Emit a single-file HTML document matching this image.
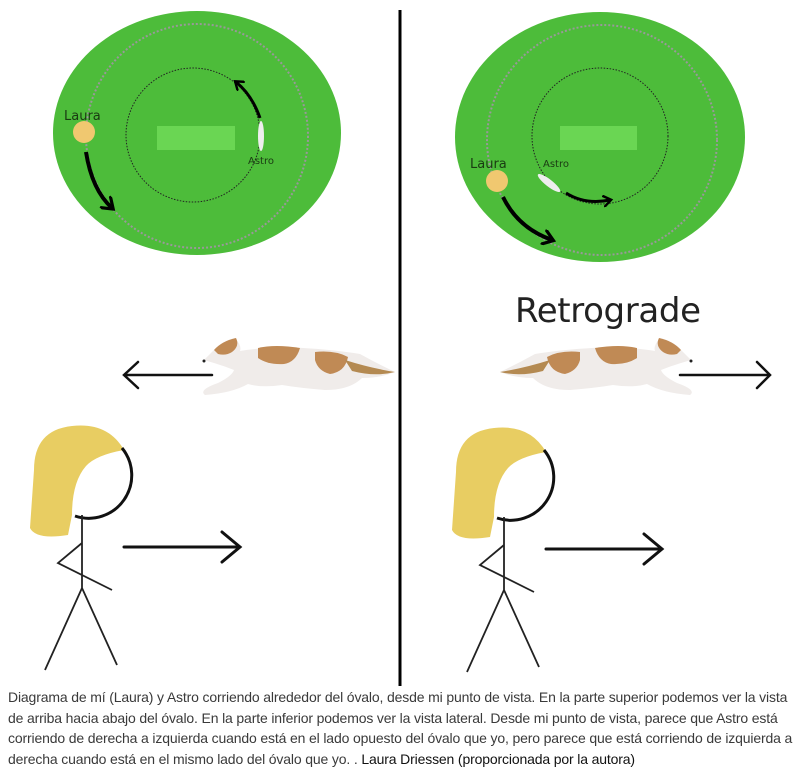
<!DOCTYPE html>
<html><head><meta charset="utf-8"><style>
html,body{margin:0;padding:0;background:#fff;width:800px;height:767px;overflow:hidden}
svg{position:absolute;left:0;top:0}
.cap{position:absolute;left:8px;top:687px;width:795px;font:14px/20.5px "Liberation Sans",sans-serif;color:#3a3a3a;white-space:nowrap;letter-spacing:-0.15px}
.cap span{color:#111}
</style></head><body>
<svg width="800" height="767" viewBox="0 0 800 767" font-family="DejaVu Sans, sans-serif">
<defs>
<g id="dog">
 <path d="M204,360 L214,350 Q222,341 235,338 Q242,346 240,351 Q258,348 285,347 Q330,349 360,354 Q378,364 395,372 Q380,378 362,378 Q350,390 325,390 Q300,388 282,385 Q262,388 248,384 Q232,393 205,395 Q198,390 218,383 Q232,376 234,370 Q224,366 214,363 Z" fill="#f0ecea"/>
 <path d="M214,350 Q222,341 236,338 Q240,346 232,352 Q226,356 218,354 Z" fill="#c08a55"/>
 <path d="M258,348 Q275,344 300,348 Q296,362 284,364 Q268,365 258,358 Z" fill="#c08a55"/>
 <path d="M315,352 Q335,350 348,357 Q345,372 330,374 Q318,371 315,360 Z" fill="#c08a55"/>
 <path d="M345,360 Q370,368 395,372 Q375,377 352,371 Z" fill="#b48a52"/>
 <circle cx="204" cy="361" r="1.5" fill="#222"/>
</g>
<g id="person">
 <path d="M34,470 Q34,430 72,426 Q108,422 124,450 Q96,455 86,466 Q72,482 72,515 L68,535 Q36,540 30,528 Z" fill="#e8cd62"/>
 <path d="M122,448 A43,43 0 0 1 75,516" fill="none" stroke="#111" stroke-width="3"/>
 <path d="M82,515 L82,590 M82,543 L58,563 L112,590 M82,588 L45,670 M82,588 L117,665" fill="none" stroke="#222" stroke-width="1.8"/>
 <path d="M124,547 L240,547 M222,532 L240,547 L222,562" fill="none" stroke="#111" stroke-width="3" stroke-linecap="round"/>
</g>
<marker id="ah" viewBox="0 0 10 10" refX="6" refY="5" markerWidth="4" markerHeight="4" orient="auto"><path d="M0,0 L7,5 L0,10" fill="none" stroke="#000" stroke-width="2"/></marker>
</defs>
<ellipse cx="197" cy="133" rx="144" ry="122" fill="#4dbc3a"/>
<ellipse cx="197" cy="136" rx="111" ry="112" fill="none" stroke="#999" stroke-width="2" stroke-dasharray="2 2"/>
<circle cx="193" cy="135" r="67" fill="none" stroke="#222" stroke-width="1" stroke-dasharray="1.5 1.5"/>
<rect x="157" y="126" width="78" height="24" fill="#6ad653"/>
<circle cx="84" cy="132" r="11" fill="#f0c870"/>
<text x="64" y="120" font-size="13" fill="#1a3a12">Laura</text>
<path d="M86,152 Q92,190 112,208" fill="none" stroke="#000" stroke-width="4" marker-end="url(#ah)"/>
<ellipse cx="261" cy="136" rx="3" ry="15" fill="#eee"/>
<path d="M260,118 Q252,95 236,82" fill="none" stroke="#000" stroke-width="3" marker-end="url(#ah)"/>
<text x="248" y="164" font-size="10" fill="#1a3a12">Astro</text>
<ellipse cx="600" cy="137" rx="145" ry="125" fill="#4dbc3a"/>
<ellipse cx="602" cy="140" rx="115" ry="115" fill="none" stroke="#999" stroke-width="2" stroke-dasharray="2 2"/>
<circle cx="600" cy="136" r="68" fill="none" stroke="#222" stroke-width="1" stroke-dasharray="1.5 1.5"/>
<rect x="560" y="126" width="77" height="24" fill="#6ad653"/>
<circle cx="497" cy="181" r="11" fill="#f0c870"/>
<text x="470" y="168" font-size="13" fill="#1a3a12">Laura</text>
<path d="M503,197 Q518,228 552,240" fill="none" stroke="#000" stroke-width="4" marker-end="url(#ah)"/>
<ellipse cx="549" cy="183" rx="14" ry="3.5" transform="rotate(38 549 183)" fill="#eee"/>
<text x="543" y="167" font-size="10" fill="#1a3a12">Astro</text>
<path d="M566,193 Q585,205 610,200" fill="none" stroke="#000" stroke-width="3" marker-end="url(#ah)"/>
<line x1="400" y1="10" x2="400" y2="686" stroke="#000" stroke-width="3"/>
<text x="515" y="322" font-size="34" fill="#222" textLength="186">Retrograde</text>
<use href="#dog"/>
<path d="M212,375 L125,375 M138,362 L124,375 L138,388" fill="none" stroke="#111" stroke-width="2.5" stroke-linecap="round"/>
<use href="#dog" transform="translate(895,0) scale(-1,1)"/>
<path d="M680,375 L770,375 M757,362 L770,375 L757,388" fill="none" stroke="#111" stroke-width="2.5" stroke-linecap="round"/>
<use href="#person"/>
<use href="#person" transform="translate(422,2)"/>
</svg>
<div class="cap">Diagrama de mí (Laura) y Astro corriendo alrededor del óvalo, desde mi punto de vista. En la parte superior podemos ver la vista<br>de arriba hacia abajo del óvalo. En la parte inferior podemos ver la vista lateral. Desde mi punto de vista, parece que Astro está<br>corriendo de derecha a izquierda cuando está en el lado opuesto del óvalo que yo, pero parece que está corriendo de izquierda a<br>derecha cuando está en el mismo lado del óvalo que yo. . <span>Laura Driessen (proporcionada por la autora)</span></div>
</body></html>
